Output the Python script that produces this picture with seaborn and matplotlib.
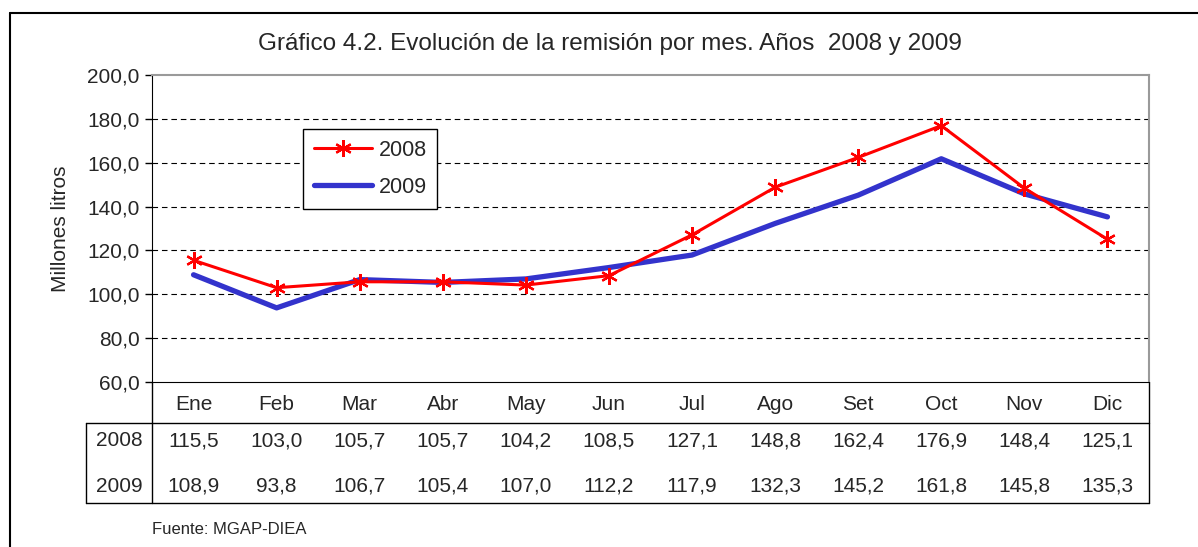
import matplotlib
matplotlib.use("Agg")
import matplotlib.pyplot as plt
import matplotlib.transforms as mtransforms
from matplotlib.lines import Line2D
import seaborn as sns
import pandas as pd
import numpy as np

months = ["Ene", "Feb", "Mar", "Abr", "May", "Jun", "Jul", "Ago", "Set", "Oct", "Nov", "Dic"]
values_2008 = [115.5, 103.0, 105.7, 105.7, 104.2, 108.5, 127.1, 148.8, 162.4, 176.9, 148.4, 125.1]
values_2009 = [108.9, 93.8, 106.7, 105.4, 107.0, 112.2, 117.9, 132.3, 145.2, 161.8, 145.8, 135.3]
years = ["2008", "2009"]

sns.set_style("white")
plt.rcParams["font.family"] = ["Liberation Sans", "DejaVu Sans"]


def fmt(v):
    return f"{v:.1f}".replace(".", ",")


df = pd.DataFrame({"pos": np.arange(len(months)), "2008": values_2008, "2009": values_2009})

W, H = 1198, 547
fig = plt.figure(figsize=(W / 100, H / 100), dpi=100)
ax = fig.add_axes([152 / W, (H - 382) / H, 997 / W, 307 / H])

sns.lineplot(data=df, x="pos", y="2008", ax=ax, color="#FF0000", linewidth=2.2,
             marker=(6, 2, 0), markersize=12, markeredgewidth=1.6,
             markeredgecolor="#FF0000", label="2008", zorder=4)
sns.lineplot(data=df, x="pos", y="2009", ax=ax, color="#3333CC", linewidth=3.8,
             label="2009", zorder=3)

ax.set_xlim(-0.5, 11.5)
ax.set_ylim(60, 200)
ax.set_yticks(np.arange(60, 201, 20))
ax.set_yticklabels([fmt(v) for v in np.arange(60, 201, 20)], fontsize=15)
ax.tick_params(axis="y", direction="out", length=5, width=1, color="black", pad=4, left=True)
ax.set_xticks(range(len(months)))
ax.set_xticklabels(months, fontsize=15)
ax.tick_params(axis="x", length=0, pad=9)
ax.set_xlabel("")
ax.set_ylabel("Millones litros", fontsize=15, labelpad=12)

for y in range(80, 181, 20):
    ax.axhline(y, color="black", linewidth=0.8, linestyle=(0, (5, 3.5)), zorder=1)

ax.spines["top"].set_color("#9a9a9a")
ax.spines["right"].set_color("#9a9a9a")
ax.spines["top"].set_linewidth(1.5)
ax.spines["right"].set_linewidth(1.5)
ax.spines["left"].set_color("black")
ax.spines["bottom"].set_color("black")

leg = ax.legend(loc="upper left", bbox_to_anchor=(0.1515, 0.824), borderaxespad=0,
                fancybox=False, edgecolor="black", framealpha=1, fontsize=15.5,
                handlelength=2.7, handletextpad=0.3, labelspacing=0.75, borderpad=0.5)
leg.get_frame().set_linewidth(1.0)

fig.text(610 / W, 1 - 44 / H, "Gráfico 4.2. Evolución de la remisión por mes. Años  2008 y 2009",
         ha="center", va="center", fontsize=17.5)

# data table below the chart
trans = mtransforms.blended_transform_factory(ax.transData, ax.transAxes)
px = 1 / 307
y_hdr = -41 * px
y_bot = -121 * px
left_lab = -0.5 - 66 / (997 / 12)
mid_lab = -0.5 - 33 / (997 / 12)

def tline(xs, ys, color="black", lw=1.0):
    ax.add_line(Line2D(xs, ys, transform=trans, color=color, linewidth=lw, clip_on=False))

tline([left_lab, 11.5], [y_hdr, y_hdr])
tline([left_lab, 11.5], [y_bot, y_bot])
tline([-0.5, -0.5], [0, y_bot])
tline([11.5, 11.5], [0, y_bot])
tline([left_lab, left_lab], [y_hdr, y_bot])

for yr, vals, yc in [(years[0], values_2008, -59 * px), (years[1], values_2009, -104 * px)]:
    ax.text(mid_lab, yc, yr, transform=trans, ha="center", va="center", fontsize=15)
    for i, v in enumerate(vals):
        ax.text(i, yc, fmt(v), transform=trans, ha="center", va="center", fontsize=15)

fig.text(152 / W, 1 - 530 / H, "Fuente: MGAP-DIEA", ha="left", va="center", fontsize=12)

# outer frame of the chart area
fig.add_artist(Line2D([10 / W, 1], [1 - 13 / H, 1 - 13 / H], transform=fig.transFigure, color="black", linewidth=1.5))
fig.add_artist(Line2D([10 / W, 10 / W], [0, 1 - 13 / H], transform=fig.transFigure, color="black", linewidth=1.5))

fig.savefig("out.png", dpi=100)
